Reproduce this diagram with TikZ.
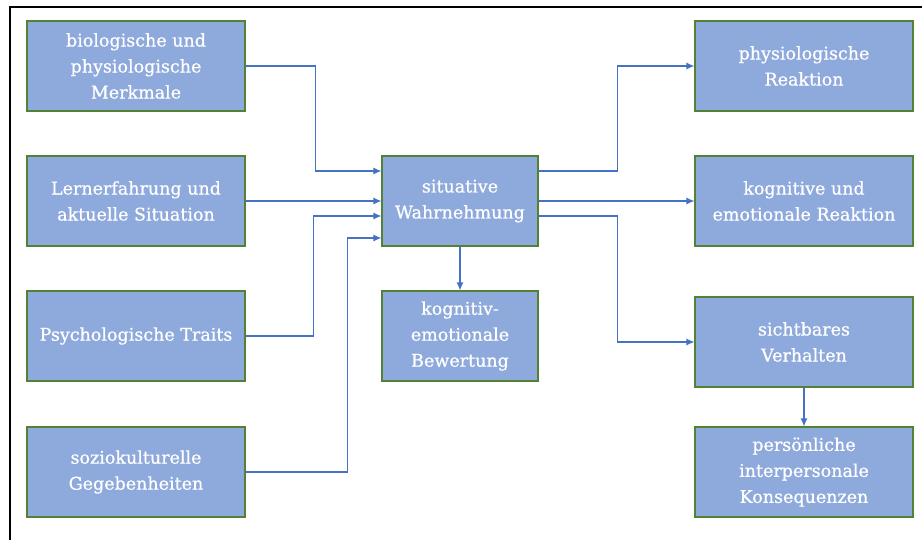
\documentclass[tikz,border=0pt]{standalone}
\usepackage{fontspec}
\setmainfont{DejaVu Serif}[BoldFont={DejaVu Serif}, BoldFeatures={FakeBold=0.7}]
\usetikzlibrary{arrows.meta}
\definecolor{boxfill}{HTML}{8EA9DB}
\definecolor{boxline}{HTML}{548235}
\definecolor{linkblue}{HTML}{4472C4}
\begin{document}
\begin{tikzpicture}[x=1pt, y=-1pt,
        box/.style={rectangle, draw=boxline, fill=boxfill, line width=1.2pt, minimum width=218pt, minimum height=90pt, inner sep=0pt, align=center, text=white, font=\fontsize{17.5}{26}\selectfont\bfseries},
        midbox/.style={box, minimum width=156pt},
        arrow/.style={-{Latex[length=8pt,width=7pt]}, linkblue, line width=1.1pt}
    ]
    \useasboundingbox (0,0) rectangle (922,540);
    % Frame
    \draw[line width=2.2pt] (10,540) -- (10,7) -- (922,7);
    % Nodes
    \node[box] (bio) at (136,66) {biologische und\\physiologische\\Merkmale};
    \node[box] (lern) at (136,201) {Lernerfahrung und\\aktuelle Situation};
    \node[box] (traits) at (136,336) {Psychologische Traits};
    \node[box] (sozio) at (136,472) {soziokulturelle\\Gegebenheiten};
    \node[midbox] (sit) at (460,201) {situative\\Wahrnehmung};
    \node[midbox] (bew) at (460,336) {kognitiv-\\emotionale\\Bewertung};
    \node[box] (phys) at (804,66) {physiologische\\Reaktion};
    \node[box] (kog) at (804,201) {kognitive und\\emotionale Reaktion};
    \node[box] (verh) at (804,342) {sichtbares\\Verhalten};
    \node[box] (kons) at (804,472) {persönliche\\interpersonale\\Konsequenzen};
    % Edges
    \draw[arrow] (bio.east) -- ++(70,0) |- ([yshift=30pt]sit.west);
    \draw[arrow] (lern.east) -- (sit.west);
    \draw[arrow] (traits.east) -- ++(68,0) |- ([yshift=-15pt]sit.west);
    \draw[arrow] (sozio.east) -- ++(102,0) |- ([yshift=-37pt]sit.west);
    \draw[arrow] ([yshift=30pt]sit.east) -- ++(79,0) |- (phys.west);
    \draw[arrow] (sit.east) -- (kog.west);
    \draw[arrow] ([yshift=-15pt]sit.east) -- ++(79,0) |- (verh.west);
    \draw[arrow] (sit.south) -- (bew.north);
    \draw[arrow] (verh.south) -- (kons.north);
\end{tikzpicture}
\end{document}
